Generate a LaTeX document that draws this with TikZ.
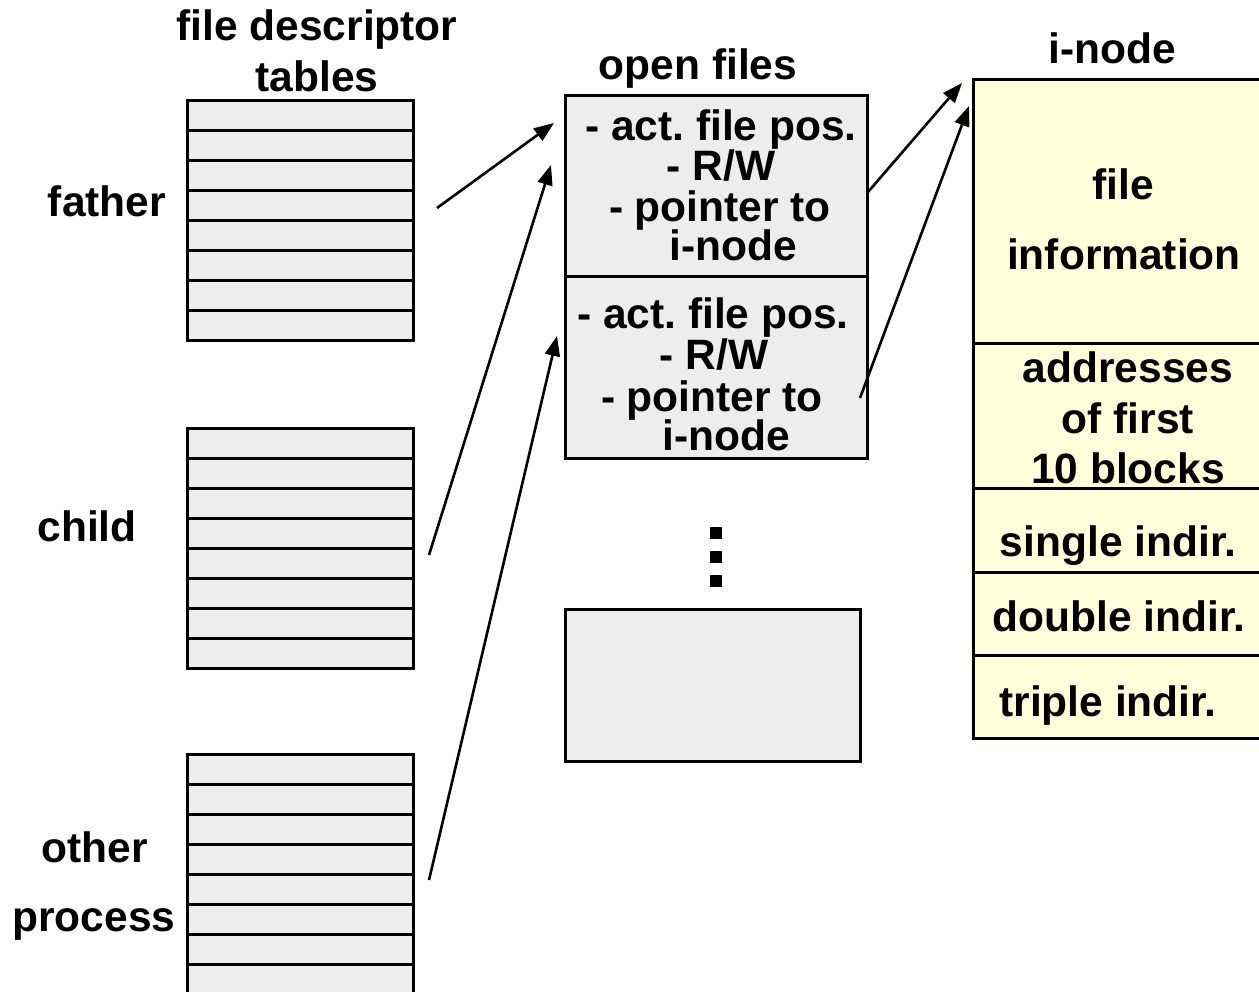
\documentclass[tikz,border=0pt]{standalone}
\usepackage{fontspec}
\setmainfont{Liberation Sans}
\usetikzlibrary{arrows.meta}
\definecolor{tblgray}{HTML}{EDEDED}
\definecolor{inodey}{HTML}{FFFFDC}
\frenchspacing
\begin{document}
\begin{tikzpicture}[x=1pt,y=-1pt,
  lbl/.style={font=\bfseries\fontsize{42.5}{44}\selectfont, inner sep=0pt, anchor=base},
  box/.style={fill=tblgray, draw=black, line width=3pt},
  ibox/.style={fill=inodey, draw=black, line width=3pt},
  rule/.style={line width=3pt},
  arr/.style={-{Triangle[length=20pt,width=15pt]}, line width=2.6pt}]
\useasboundingbox (0,0) rectangle (1259,992);
\clip (0,0) rectangle (1259,992);

% file descriptor tables
\foreach \nm/\top/\bot in {father/101/341, child/428/668, other/754/1024} {
  \draw[box] (187,\top) rectangle (413,\bot);
  \foreach \k in {1,...,8} {
    \draw[rule] (187,\top+30*\k) -- (413,\top+30*\k);
  }
}
\node[lbl] (tdesc1) at (317,41) {file descriptor};
\node[lbl] (tdesc2) at (317,92) {tables};
\node[lbl] (tfather) at (107,217) {father};
\node[lbl] (tchild) at (87,541) {child};
\node[lbl] (tother) at (95,862) {other};
\node[lbl] (tproc) at (94,931) {process};

% open files
\node[lbl] (topen) at (698,80) {open files};
\draw[box] (565,96) rectangle (867,458);
\draw[rule] (565,277) -- (867,277);
\node[lbl] (a1) at (721,141) {- act. file pos.};
\node[lbl] (a2) at (721,181) {- R/W};
\node[lbl] (a3) at (720,222) {- pointer to};
\node[lbl] (a4) at (733,261) {i-node};
\node[lbl] (b1) at (713,329) {- act. file pos.};
\node[lbl] (b2) at (714,370) {- R/W};
\node[lbl] (b3) at (712,411) {- pointer to};
\node[lbl] (b4) at (726,450) {i-node};
\foreach \y in {533,557,581} {
  \fill (710,\y-6) rectangle (722,\y+6);
}
\draw[box] (565,609) rectangle (860,761);

% i-node
\node[lbl] (tinode) at (1112,64) {i-node};
\draw[ibox] (973,80) rectangle (1275,738);
\foreach \y in {344,488,572,655} {
  \draw[rule] (973,\y) -- (1275,\y);
}
\node[lbl] (i1) at (1123,200) {file};
\node[lbl] (i2) at (1124,270) {information};
\node[lbl] (i3) at (1128,383) {addresses};
\node[lbl] (i4) at (1128,433) {of first};
\node[lbl] (i5) at (1128,483) {10 blocks};
\node[lbl] (i6) at (1118,556) {single indir.};
\node[lbl] (i7) at (1119,631) {double indir.};
\node[lbl] (i8) at (1108,716) {triple indir.};

% connectors
\coordinate (fo) at (437,208);
\coordinate (co) at (429,555);
\coordinate (oo) at (429,880);
\coordinate (of1a) at (554,123);
\coordinate (of1b) at (551,165);
\coordinate (of2) at (557,336);
\coordinate (p1) at (868,192);
\coordinate (p2) at (860,398);
\coordinate (in1) at (962,83);
\coordinate (in2) at (969,106);
\draw[arr] (fo) -- (of1a);
\draw[arr] (co) -- (of1b);
\draw[arr] (oo) -- (of2);
\draw[arr] (p1) -- (in1);
\draw[arr] (p2) -- (in2);
\end{tikzpicture}
\end{document}
